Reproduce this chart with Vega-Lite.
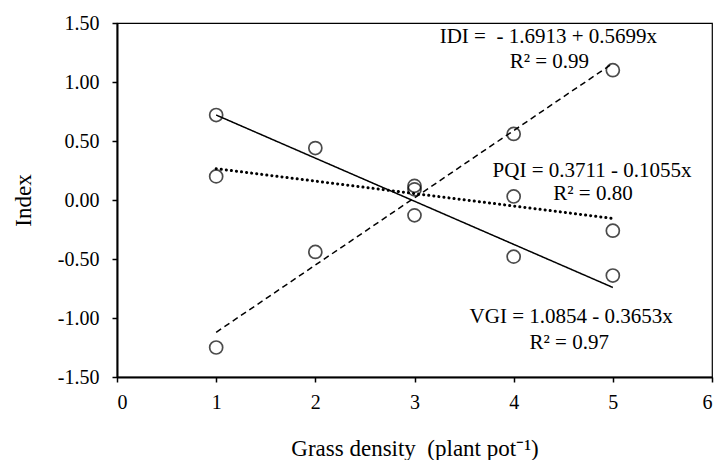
{
  "$schema": "https://vega.github.io/schema/vega-lite/v6.json",
  "width": 595,
  "height": 354,
  "autosize": {"type": "none"},
  "padding": {"left": 117, "top": 23, "right": 4, "bottom": 83},
  "background": "white",
  "config": {
    "font": "Liberation Serif",
    "view": {"stroke": "black", "strokeWidth": 1.2},
    "axis": {
      "domainColor": "black", "domainWidth": 2, "tickColor": "black", "tickWidth": 1.5, "tickSize": 5,
      "labelFont": "Liberation Serif", "labelFontSize": 20, "labelColor": "black",
      "titleFont": "Liberation Serif", "titleFontSize": 23, "titleFontWeight": "normal", "titleColor": "black",
      "grid": false
    }
  },
  "datasets": {
    "pts": [
      {"series": "VGI", "x": 1, "y": 0.72},
      {"series": "VGI", "x": 2, "y": 0.44},
      {"series": "VGI", "x": 3, "y": -0.13},
      {"series": "VGI", "x": 4, "y": -0.48},
      {"series": "VGI", "x": 5, "y": -0.64},
      {"series": "PQI", "x": 1, "y": 0.20},
      {"series": "PQI", "x": 3, "y": 0.09},
      {"series": "PQI", "x": 4, "y": 0.03},
      {"series": "PQI", "x": 5, "y": -0.26},
      {"series": "IDI", "x": 1, "y": -1.25},
      {"series": "IDI", "x": 2, "y": -0.44},
      {"series": "IDI", "x": 3, "y": 0.12},
      {"series": "IDI", "x": 4, "y": 0.56},
      {"series": "IDI", "x": 5, "y": 1.10}
    ],
    "fits": [
      {"series": "VGI", "x": 1, "y": 0.7201},
      {"series": "VGI", "x": 5, "y": -0.7411},
      {"series": "PQI", "x": 1, "y": 0.2656},
      {"series": "PQI", "x": 5, "y": -0.1564},
      {"series": "IDI", "x": 1, "y": -1.1214},
      {"series": "IDI", "x": 5, "y": 1.1582}
    ],
    "notes": [
      {"x": 4.35, "y": 1.38, "label": "IDI =\u00a0 - 1.6913 + 0.5699x"},
      {"x": 4.36, "y": 1.17, "label": "R² = 0.99"},
      {"x": 4.79, "y": 0.25, "label": "PQI = 0.3711 - 0.1055x"},
      {"x": 4.80, "y": 0.05, "label": "R² = 0.80"},
      {"x": 4.58, "y": -0.99, "label": "VGI = 1.0854 - 0.3653x"},
      {"x": 4.56, "y": -1.21, "label": "R² = 0.97"}
    ]
  },
  "layer": [
    {
      "data": {"name": "fits"},
      "transform": [{"filter": "datum.series !== 'PQI'"}],
      "mark": {"type": "line", "color": "black"},
      "encoding": {
        "x": {"field": "x", "type": "quantitative", "scale": {"domain": [0, 6], "nice": false, "zero": false},
              "axis": {"values": [0,1,2,3,4,5,6], "format": "d", "title": "Grass density\u00a0 (plant pot⁻¹)", "labelPadding": 10, "titlePadding": 25}},
        "y": {"field": "y", "type": "quantitative", "scale": {"domain": [-1.5, 1.5], "nice": false, "zero": false},
              "axis": {"values": [-1.5,-1,-0.5,0,0.5,1,1.5], "title": "Index", "labelPadding": 13, "titlePadding": 22,
                       "labelExpr": "replace(format(datum.value, '.2f'), '\u2212', '-')"}},
        "detail": {"field": "series"},
        "strokeDash": {"field": "series", "type": "nominal", "legend": null,
                       "scale": {"domain": ["VGI", "IDI"], "range": [[1, 0], [6, 4]]}},
        "strokeWidth": {"value": 1.5}
      }
    },
    {
      "data": {"name": "fits"},
      "transform": [{"filter": "datum.series === 'PQI'"}],
      "mark": {"type": "line", "color": "black", "strokeWidth": 3, "strokeCap": "round", "strokeDash": [0.1, 5]},
      "encoding": {
        "x": {"field": "x", "type": "quantitative"},
        "y": {"field": "y", "type": "quantitative"}
      }
    },
    {
      "data": {"name": "pts"},
      "mark": {"type": "point", "shape": "circle", "filled": false, "color": "black", "size": 170, "strokeWidth": 1.7},
      "encoding": {
        "x": {"field": "x", "type": "quantitative"},
        "y": {"field": "y", "type": "quantitative"}
      }
    },
    {
      "data": {"name": "notes"},
      "mark": {"type": "text", "font": "Liberation Serif", "fontSize": 21, "color": "black", "align": "center", "baseline": "middle"},
      "encoding": {
        "x": {"field": "x", "type": "quantitative"},
        "y": {"field": "y", "type": "quantitative"},
        "text": {"field": "label"}
      }
    }
  ]
}
